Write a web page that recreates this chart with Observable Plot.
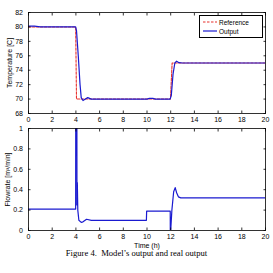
<!DOCTYPE html>
<html><head><meta charset="utf-8">
<script src="https://cdn.jsdelivr.net/npm/d3@7"></script>
<script src="https://cdn.jsdelivr.net/npm/@observablehq/plot@0.6"></script>
<style>
body{margin:0;background:#fff;}
#wrap{position:relative;width:273px;height:273px;overflow:hidden;background:#fff;}
#topChart,#botChart{position:absolute;left:0;}
#topChart{top:0;} #botChart{top:123px;}
#legend{position:absolute;left:199px;top:15px;width:62px;height:21px;border:0.8px solid #000;background:#fff;font:6.5px "Liberation Sans",sans-serif;}
#legend .row{position:absolute;left:3px;display:flex;align-items:center;}
#legend svg{margin-right:2px;}
#caption{position:absolute;left:0;top:248px;width:273px;text-align:center;font:8.6px "Liberation Serif",serif;color:#000;}
</style></head>
<body><div id="wrap"><div id="topChart"></div><div id="botChart"></div>
<div id="legend">
 <div class="row" style="top:2px"><svg width="14" height="8"><line x1="0" y1="4" x2="14" y2="4" stroke="#e8302c" stroke-width="1.1" stroke-dasharray="2.5,1.5"/></svg>Reference</div>
 <div class="row" style="top:11px"><svg width="14" height="8"><line x1="0" y1="4" x2="14" y2="4" stroke="#1a1ad0" stroke-width="1.2"/></svg>Output</div>
</div>
<div id="caption">Figure 4.&nbsp; Model’s output and real output</div>
</div>
<script>
// Temperature reference (red dashed)
const refTime = [0, 3.98, 4.05, 11.98, 12.12, 20];
const refTemp = [80, 80, 70, 70, 75, 75];
// Temperature model output (blue)
const outTime = [0, 0.5, 1, 3.98, 4.05, 4.2, 4.35, 4.45, 4.6, 4.8, 5.0, 5.3, 10, 10.2, 10.5, 10.7, 11.95, 12.05, 12.2, 12.35, 12.5, 12.7, 13, 20];
const outTemp = [80.1, 80.1, 80, 80, 79.5, 76, 72, 70.2, 69.8, 70.0, 70.2, 70.0, 70.0, 70.1, 70.1, 70, 70, 70.5, 73.5, 75.0, 75.25, 75.05, 75, 75];
// Flowrate (blue)
const flowTime = [0, 3.98, 4.0, 4.07, 4.09, 4.12, 4.16, 4.25, 4.45, 4.6, 4.9, 5.3, 9.95, 9.97, 11.96, 11.98, 12.0, 12.1, 12.25, 12.38, 12.5, 12.65, 12.85, 20];
const flowVal = [0.21, 0.21, 3, 3, 0.25, 0.47, 0.2, 0.1, 0.08, 0.085, 0.11, 0.1, 0.1, 0.19, 0.19, -0.4, 0.0, 0.2, 0.38, 0.42, 0.37, 0.33, 0.32, 0.32];

const xTicks = [0,2,4,6,8,10,12,14,16,18,20];
const tempTicks = [68,70,72,74,76,78,80,82];
const flowTicks = [0,0.2,0.4,0.6,0.8,1];

const refData = refTime.map((t,i)=>({t, v:refTemp[i]}));
const outData = outTime.map((t,i)=>({t, v:outTemp[i]}));
const flowData = flowTime.map((t,i)=>({t, v:flowVal[i]}));

const chartStyle = {fontFamily:"Liberation Sans, sans-serif", fontSize:"7px", background:"white", color:"black", overflow:"visible"};
const tk = {tickSize:-2.5, strokeWidth:0.8};

const topPlot = Plot.plot({
  width:273, height:123, marginLeft:28, marginRight:8, marginTop:12, marginBottom:10,
  style:chartStyle,
  x:{domain:[0,20]}, y:{domain:[68,82]},
  marks:[
    Plot.line(refData,{x:"t",y:"v",stroke:"#e8302c",strokeWidth:1.1,strokeDasharray:"2.5,1.5",clip:true}),
    Plot.line(outData,{x:"t",y:"v",stroke:"#1a1ad0",strokeWidth:1.2,clip:true}),
    Plot.frame({stroke:"black",strokeWidth:0.8}),
    Plot.axisX(xTicks,{anchor:"bottom",...tk,tickPadding:6,label:null}),
    Plot.axisX(xTicks,{anchor:"top",...tk,tickFormat:()=>"",label:null}),
    Plot.axisY(tempTicks,{anchor:"left",...tk,tickPadding:8,label:"Temperature [C]",labelAnchor:"center",labelArrow:"none",labelOffset:21}),
    Plot.axisY(tempTicks,{anchor:"right",...tk,tickFormat:()=>"",label:null})
  ]
});
document.getElementById("topChart").appendChild(topPlot);

const botPlot = Plot.plot({
  width:273, height:127, marginLeft:28, marginRight:8, marginTop:5, marginBottom:20,
  style:chartStyle,
  x:{domain:[0,20]}, y:{domain:[0,1]},
  marks:[
    Plot.line(flowData,{x:"t",y:"v",stroke:"#1a1ad0",strokeWidth:1.2,clip:true}),
    Plot.frame({stroke:"black",strokeWidth:0.8}),
    Plot.axisX(xTicks,{anchor:"bottom",...tk,tickPadding:6,label:"Time (h)",labelAnchor:"center",labelArrow:"none",labelOffset:17}),
    Plot.axisX(xTicks,{anchor:"top",...tk,tickFormat:()=>"",label:null}),
    Plot.axisY(flowTicks,{anchor:"left",...tk,tickPadding:8,tickFormat:d=>String(d),label:"Flowrate [m³/min]",labelAnchor:"center",labelArrow:"none",labelOffset:23}),
    Plot.axisY(flowTicks,{anchor:"right",...tk,tickFormat:()=>"",label:null})
  ]
});
document.getElementById("botChart").appendChild(botPlot);
</script>
</body></html>
